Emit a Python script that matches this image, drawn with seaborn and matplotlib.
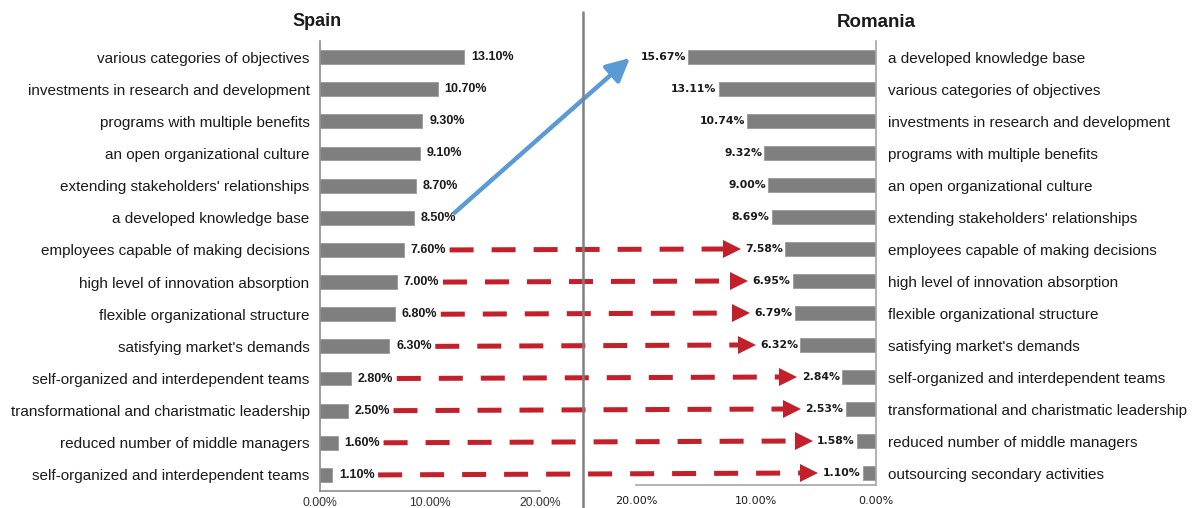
import numpy as np
import matplotlib
matplotlib.use("Agg")
import matplotlib.pyplot as plt
import seaborn as sns
from matplotlib.patches import ConnectionPatch
from matplotlib.lines import Line2D
from matplotlib.transforms import ScaledTranslation

# ---- data -------------------------------------------------------------
spain_labels = [
    "various categories of objectives",
    "investments in research and development",
    "programs with multiple benefits",
    "an open organizational culture",
    "extending stakeholders' relationships",
    "a developed knowledge base",
    "employees capable of making decisions",
    "high level of innovation absorption",
    "flexible organizational structure",
    "satisfying market's demands",
    "self-organized and interdependent teams",
    "transformational and charistmatic leadership",
    "reduced number of middle managers",
    "self-organized and interdependent teams",
]
spain_values = [13.10, 10.70, 9.30, 9.10, 8.70, 8.50, 7.60, 7.00, 6.80, 6.30,
                2.80, 2.50, 1.60, 1.10]

romania_labels = [
    "a developed knowledge base",
    "various categories of objectives",
    "investments in research and development",
    "programs with multiple benefits",
    "an open organizational culture",
    "extending stakeholders' relationships",
    "employees capable of making decisions",
    "high level of innovation absorption",
    "flexible organizational structure",
    "satisfying market's demands",
    "self-organized and interdependent teams",
    "transformational and charistmatic leadership",
    "reduced number of middle managers",
    "outsourcing secondary activities",
]
romania_values = [15.67, 13.11, 10.74, 9.32, 9.00, 8.69, 7.58, 6.95, 6.79, 6.32,
                  2.84, 2.53, 1.58, 1.10]

x_ticks = [0, 10, 20]
same_rank_rows = [6, 7, 8, 9, 10, 11, 12, 13]   # rows kept in the same position
moved_row = (5, 0)                                # Spain row -> Romania row

# ---- style ------------------------------------------------------------
sns.set_style("white")
plt.rcParams["font.family"] = ["Liberation Sans", "DejaVu Sans"]

BAR = "#7f7f7f"
SPINE = "#8c8c8c"
RED = "#c3202b"
BLUE = "#5b9bd5"
TXT = "#1a1a1a"
CAT_SIZE = 11

W, H = 1195, 508
fig = plt.figure(figsize=(W / 100, H / 100), dpi=100)
axL = fig.add_axes([320 / W, 1 - 491 / H, 220 / W, 450 / H])
axR = fig.add_axes([636 / W, 1 - 485 / H, 240 / W, 444 / H])

rows = np.arange(len(spain_values))

# ---- Spain ------------------------------------------------------------
sns.barplot(x=spain_values, y=rows, orient="h", ax=axL, color=BAR,
            saturation=1, width=0.43, edgecolor="#9a9a9a", linewidth=0.6)
axL.set_xlim(0, 20)
axL.set_ylim(13.5, -0.5)
axL.set_yticks(rows)
axL.set_yticklabels(spain_labels, fontsize=CAT_SIZE, color=TXT)
axL.set_yticks(np.arange(-0.5, len(rows), 1), minor=True)
axL.tick_params(axis="y", which="major", length=0, pad=7.5)
axL.tick_params(axis="y", which="minor", length=3.5, color=SPINE, width=1)
axL.set_xticks(x_ticks)
axL.set_xticklabels([f"{v:.2f}%" for v in x_ticks], fontsize=8.8, color="#333333")
axL.tick_params(axis="x", length=3, color=SPINE, width=1, pad=1.5)
axL.set_xlabel("")
axL.set_ylabel("")
for s in ["top", "right"]:
    axL.spines[s].set_visible(False)
for s in ["left", "bottom"]:
    axL.spines[s].set_color(SPINE)
    axL.spines[s].set_linewidth(1.2)
axL.bar_label(axL.containers[0], labels=[f"{v:.2f}%" for v in spain_values],
              padding=5, fontsize=9, fontweight="bold", color=TXT)
axL.text(-0.015, 1 + 19 / 450, "Spain", transform=axL.transAxes, ha="center",
         va="center", fontsize=13, fontweight="bold", color=TXT)

# ---- Romania ----------------------------------------------------------
sns.barplot(x=romania_values, y=rows, orient="h", ax=axR, color=BAR,
            saturation=1, width=0.43, edgecolor="#9a9a9a", linewidth=0.6)
axR.set_xlim(20, 0)
axR.set_ylim(13.375, -0.5)
axR.yaxis.tick_right()
axR.set_yticks(rows)
axR.set_yticklabels(romania_labels, fontsize=CAT_SIZE, color=TXT)
axR.tick_params(axis="y", length=0, pad=9)
axR.set_xticks(x_ticks)
axR.set_xticklabels([f"{v:.2f}%" for v in x_ticks], fontsize=8, color=TXT,
                    family="DejaVu Sans")
axR.tick_params(axis="x", length=0, pad=8)
axR.set_xlabel("")
axR.set_ylabel("")
for s in ["top", "left"]:
    axR.spines[s].set_visible(False)
for s in ["right", "bottom"]:
    axR.spines[s].set_color("#a6a6a6")
    axR.spines[s].set_linewidth(1.2)
axR.bar_label(axR.containers[0], labels=[f"{v:.2f}%" for v in romania_values],
              padding=1.5, fontsize=7.8, fontweight="bold", color=TXT,
              family="DejaVu Sans")
axR.text(1.0, 1 + 19 / 444, "Romania", transform=axR.transAxes, ha="center",
         va="center", fontsize=13.5, fontweight="bold", color=TXT)

# ---- divider between the two panels -------------------------------------
fig.add_artist(Line2D([583 / W, 583 / W], [0, 1 - 12 / H], transform=fig.transFigure,
                      color="#808080", lw=1.8))


def shifted(ax, dx_px, dy_px):
    return ax.transData + ScaledTranslation(dx_px / 100, dy_px / 100, fig.dpi_scale_trans)


# ---- dashed arrows: items holding the same rank ----------------------
head_len = 17
for i in same_rank_rows:
    start = shifted(axL, 46, 0)
    stop = shifted(axR, -45 - head_len + 2, 0)
    line = ConnectionPatch(xyA=(spain_values[i], i), coordsA=start,
                           xyB=(romania_values[i], i), coordsB=stop,
                           arrowstyle="-", color=RED, lw=3.6,
                           linestyle=(0, (4.8, 3.6)), capstyle="butt",
                           shrinkA=0, shrinkB=0)
    fig.add_artist(line)
    axR.plot([romania_values[i]], [i], marker=">", ms=12.5, color=RED,
             mec=RED, mew=0, clip_on=False,
             transform=shifted(axR, -45 - head_len / 2, 0))

# ---- solid arrow: item that moved to the top -------------------------
si, ri = moved_row
blue = ConnectionPatch(xyA=(spain_values[si], si), coordsA=shifted(axL, 41, 5),
                       xyB=(romania_values[ri], ri), coordsB=shifted(axR, -58, -1),
                       arrowstyle="-|>,head_length=1.4,head_width=0.7",
                       mutation_scale=10, color=BLUE, lw=3.2,
                       shrinkA=0, shrinkB=0)
fig.add_artist(blue)

fig.savefig("out.png", dpi=100, facecolor="white")
